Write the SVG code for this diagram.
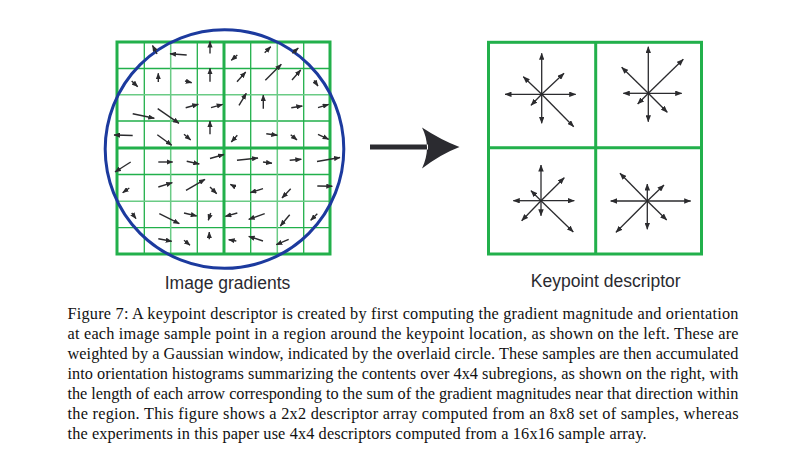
<svg xmlns="http://www.w3.org/2000/svg" width="812" height="462" viewBox="0 0 812 462">
<defs>
<marker id="ah" markerWidth="6.5" markerHeight="5.2" refX="6" refY="2.6" orient="auto" markerUnits="userSpaceOnUse"><path d="M0,0 L6.5,2.6 L0,5.2 Z" fill="#2b2b2e"/></marker>
<marker id="ah2" markerWidth="7" markerHeight="5.5" refX="6.5" refY="2.75" orient="auto" markerUnits="userSpaceOnUse"><path d="M0,0 L7,2.75 L0,5.5 Z" fill="#2b2b2e"/></marker>
</defs>
<style>
.g{stroke:#22b04b;fill:none}
.thick{stroke-width:3}
.thin{stroke-width:1.3}
.lite{stroke:#6acb85;stroke-width:1.5}
.a line{stroke:#2b2b2e;stroke-width:1.4;marker-end:url(#ah)}
.s line{stroke:#2b2b2e;stroke-width:1.3;marker-end:url(#ah2)}
.lbl{font-family:"Liberation Sans",Arial,sans-serif;font-size:17.5px;fill:#2a2a30}
.cap{font-family:"Liberation Serif","Times New Roman",serif;font-size:16.3px;fill:#111}
</style>
<rect width="812" height="462" fill="#fff"/>

<g id="image-gradients">
<g id="left-grid">
<path class="g thin" d="M144.3,42V254M197.3,42V254M250.7,42V254M303.7,42V254M117,68.5H330M117,121H330M117,174.5H330M117,227.7H330"/>
<path class="g lite" d="M170.7,42V254M277.3,42V254M117,94.7H330M117,201.3H330"/>
<path class="g thick" d="M224,42V254M117,148H330"/>
<rect class="g thick" x="117" y="42" width="213" height="212"/>
</g>
<circle id="gaussian-window" cx="224.5" cy="149" r="119.3" fill="none" stroke="#1c3a9e" stroke-width="3"/>
<g id="gradient-arrows" class="a">
<line x1="157" y1="54" x2="152.5" y2="45.5"/>
<line x1="186.7" y1="55" x2="170" y2="53.7"/>
<line x1="210" y1="53.5" x2="210" y2="41.5"/>
<line x1="237.3" y1="55" x2="231.3" y2="60.3"/>
<line x1="264.7" y1="52.7" x2="270.7" y2="46.7"/>
<line x1="292.3" y1="53.3" x2="298.3" y2="48"/>

<line x1="131.7" y1="81" x2="137.7" y2="86.7"/>
<line x1="158.3" y1="82" x2="158.3" y2="73.3"/>
<line x1="185" y1="81" x2="191.7" y2="82.7"/>
<line x1="210" y1="81.7" x2="210" y2="68.3"/>
<line x1="237" y1="81.7" x2="245.7" y2="72"/>
<line x1="265.3" y1="80.3" x2="281.3" y2="64.3"/>
<line x1="292" y1="80" x2="300.7" y2="70"/>
<line x1="314" y1="80.5" x2="318" y2="86"/>

<line x1="132.7" y1="113.7" x2="154.3" y2="118.3"/>
<line x1="157.7" y1="108.7" x2="179" y2="123.3"/>
<line x1="185.7" y1="107.7" x2="198.3" y2="104.3"/>
<line x1="211" y1="107.7" x2="222.7" y2="104.3"/>
<line x1="239" y1="105.3" x2="246.3" y2="93.3"/>
<line x1="263.3" y1="108.7" x2="263.3" y2="95"/>
<line x1="291.3" y1="107.7" x2="302.3" y2="106"/>
<line x1="318" y1="107.7" x2="328.7" y2="104.3"/>

<line x1="132.7" y1="135.5" x2="114" y2="135"/>
<line x1="157.3" y1="134.7" x2="171.7" y2="145.3"/>
<line x1="184" y1="134.3" x2="190.7" y2="140"/>
<line x1="210" y1="134.3" x2="210" y2="121"/>
<line x1="237.3" y1="135.3" x2="231.3" y2="142"/>
<line x1="266.3" y1="133.7" x2="277.3" y2="135.3"/>
<line x1="290.7" y1="134.7" x2="297" y2="140"/>
<line x1="318" y1="134.3" x2="328.7" y2="139.3"/>

<line x1="130.7" y1="162" x2="115" y2="172"/>
<line x1="158.3" y1="162" x2="172.7" y2="162"/>
<line x1="186.7" y1="161.3" x2="199.3" y2="164"/>
<line x1="210" y1="158.5" x2="224" y2="154.5"/>
<line x1="237" y1="160.3" x2="258" y2="158"/>
<line x1="263" y1="162" x2="272" y2="163.3"/>
<line x1="289.7" y1="160.3" x2="301.3" y2="159.3"/>
<line x1="317" y1="161.5" x2="340" y2="157.5"/>

<line x1="129.3" y1="188" x2="122.7" y2="192.7"/>
<line x1="158.3" y1="187" x2="172.3" y2="182.7"/>
<line x1="186" y1="190.3" x2="205" y2="179.3"/>
<line x1="210" y1="187" x2="216.7" y2="193.7"/>
<line x1="235.3" y1="187" x2="230.3" y2="184.3"/>
<line x1="263" y1="188.7" x2="250.3" y2="192.7"/>
<line x1="290.7" y1="188.7" x2="282" y2="198"/>
<line x1="317.3" y1="186" x2="332.3" y2="186.3"/>

<line x1="131.7" y1="213" x2="136" y2="218.7"/>
<line x1="159.3" y1="213.7" x2="179.3" y2="223.7"/>
<line x1="184" y1="213" x2="196.7" y2="216"/>
<line x1="210.7" y1="213" x2="208.3" y2="220.3"/>
<line x1="237.3" y1="213" x2="225.3" y2="216.3"/>
<line x1="264.7" y1="213.7" x2="248.7" y2="219.3"/>
<line x1="289.7" y1="214.7" x2="280.3" y2="226"/>
<line x1="317.3" y1="213.7" x2="310.7" y2="220.3"/>

<line x1="158.3" y1="238.7" x2="171.7" y2="241.3"/>
<line x1="184" y1="240.3" x2="190" y2="245.3"/>
<line x1="209.3" y1="239.3" x2="209.3" y2="232"/>
<line x1="236.3" y1="241" x2="228.7" y2="239.7"/>
<line x1="263" y1="241" x2="248.7" y2="236.3"/>
<line x1="288.7" y1="239.3" x2="276.3" y2="244.7"/>
</g>
<text class="lbl" x="227.5" y="288.5" text-anchor="middle">Image gradients</text>
</g>

<g id="connectors">
<path id="big-arrow" d="M370,144.5H428V149.5H370Z M459.5,147 Q441,140 422,127.5 Q432,147 422,168.5 Q441,154 459.5,147Z" fill="#2b2b30"/>
</g>

<g id="keypoint-descriptor">
<g id="right-grid">
<rect class="g thick" x="488.5" y="42.3" width="213" height="211.7"/>
<path class="g thick" d="M595.7,42.3V254M488.5,147.7H701.5"/>
</g>
<g id="cell-tl" class="s">
<line x1="541.7" y1="94.3" x2="541.7" y2="53.3"/>
<line x1="541.7" y1="94.3" x2="541.7" y2="123.3"/>
<line x1="541.7" y1="94.3" x2="505" y2="94.3"/>
<line x1="541.7" y1="94.3" x2="575.7" y2="94.3"/>
<line x1="541.7" y1="94.3" x2="564" y2="73.3"/>
<line x1="541.7" y1="94.3" x2="523.3" y2="76.7"/>
<line x1="541.7" y1="94.3" x2="531" y2="105.3"/>
<line x1="541.7" y1="94.3" x2="573.7" y2="126.7"/>
</g>
<g id="cell-tr" class="s">
<line x1="648.3" y1="93.3" x2="648.3" y2="46.7"/>
<line x1="648.3" y1="93.3" x2="648.3" y2="121.7"/>
<line x1="648.3" y1="93.3" x2="623.3" y2="93.3"/>
<line x1="648.3" y1="93.3" x2="681.7" y2="93.3"/>
<line x1="648.3" y1="93.3" x2="683.3" y2="59.3"/>
<line x1="648.3" y1="93.3" x2="621.7" y2="67.3"/>
<line x1="648.3" y1="93.3" x2="637.7" y2="104"/>
<line x1="648.3" y1="93.3" x2="667.3" y2="112.3"/>
</g>
<g id="cell-bl" class="s">
<line x1="541" y1="200.7" x2="541" y2="165"/>
<line x1="541" y1="200.7" x2="541" y2="215.7"/>
<line x1="541" y1="200.7" x2="513.3" y2="200.7"/>
<line x1="541" y1="200.7" x2="574.3" y2="200.7"/>
<line x1="541" y1="200.7" x2="564.3" y2="177.7"/>
<line x1="541" y1="200.7" x2="531" y2="190.7"/>
<line x1="541" y1="200.7" x2="521.7" y2="220.7"/>
<line x1="541" y1="200.7" x2="573.3" y2="232"/>
</g>
<g id="cell-br" class="s">
<line x1="647.3" y1="201" x2="647.3" y2="184"/>
<line x1="647.3" y1="201" x2="647.3" y2="229.3"/>
<line x1="647.3" y1="201" x2="610.7" y2="201"/>
<line x1="647.3" y1="201" x2="690.7" y2="201"/>
<line x1="647.3" y1="201" x2="664" y2="185"/>
<line x1="647.3" y1="201" x2="620" y2="173.3"/>
<line x1="647.3" y1="201" x2="616" y2="232.3"/>
<line x1="647.3" y1="201" x2="666.7" y2="220"/>
</g>
<text class="lbl" x="605.7" y="287" text-anchor="middle">Keypoint descriptor</text>
</g>

<g id="caption" class="cap">
<text x="67.5" y="318.5" textLength="671" lengthAdjust="spacing">Figure 7: A keypoint descriptor is created by first computing the gradient magnitude and orientation</text>
<text x="67.5" y="338.6" textLength="671" lengthAdjust="spacing">at each image sample point in a region around the keypoint location, as shown on the left. These are</text>
<text x="67.5" y="358.7" textLength="671" lengthAdjust="spacing">weighted by a Gaussian window, indicated by the overlaid circle. These samples are then accumulated</text>
<text x="67.5" y="378.8" textLength="671" lengthAdjust="spacing">into orientation histograms summarizing the contents over 4x4 subregions, as shown on the right, with</text>
<text x="67.5" y="398.9" textLength="671" lengthAdjust="spacing">the length of each arrow corresponding to the sum of the gradient magnitudes near that direction within</text>
<text x="67.5" y="419" textLength="671" lengthAdjust="spacing">the region. This figure shows a 2x2 descriptor array computed from an 8x8 set of samples, whereas</text>
<text x="67.5" y="439.1" textLength="579" lengthAdjust="spacing">the experiments in this paper use 4x4 descriptors computed from a 16x16 sample array.</text>
</g>
</svg>
